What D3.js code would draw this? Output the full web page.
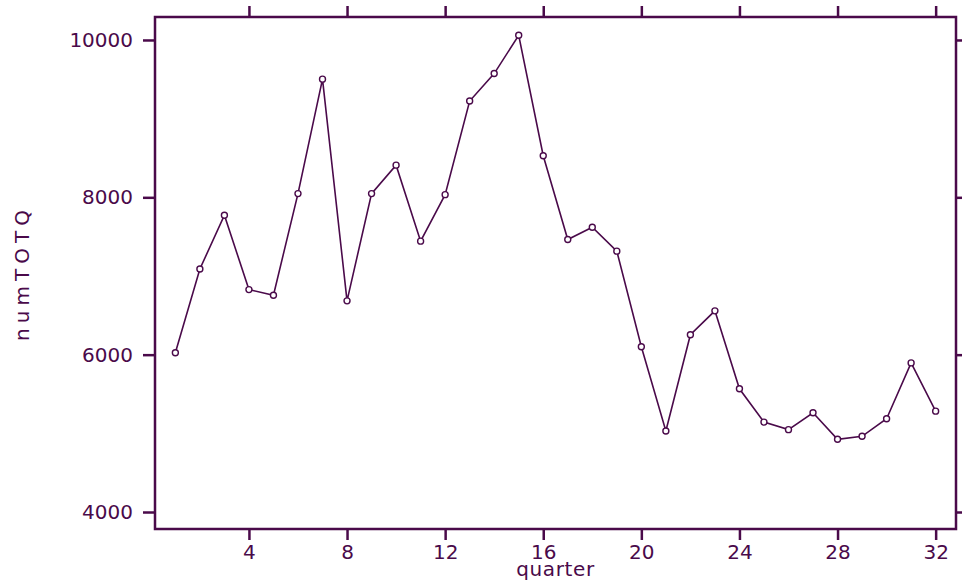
<!DOCTYPE html>
<html>
<head>
<meta charset="utf-8">
<script src="https://cdn.jsdelivr.net/npm/d3@7"></script>
<style>
  body { margin: 0; background: #fff; }
  svg text { font-family: "DejaVu Sans", sans-serif; fill: #4a0a4a; }
</style>
</head>
<body>
<div id="chart"></div>
<script>
var quarters = d3.range(1, 33);
var numTOTQ = [6025, 7089, 7772, 6827, 6756, 8047, 9502, 6684, 8047, 8409,
               7443, 8034, 9224, 9573, 10060, 8528, 7464, 7620, 7316, 6101,
               5029, 6253, 6557, 5566, 5143, 5047, 5262, 4924, 4962, 5186,
               5895, 5282];
var xTicks = [4, 8, 12, 16, 20, 24, 28, 32];
var yTicks = [4000, 6000, 8000, 10000];

var color = "#4a0a4a";
var svgWidth = 962, svgHeight = 588;
var plotLeft = 155, plotRight = 956, plotTop = 17, plotBottom = 529;

var svg = d3.select("#chart").append("svg")
    .attr("width", svgWidth)
    .attr("height", svgHeight);

var x = d3.scaleLinear().domain([0.17, 32.83]).range([plotLeft, plotRight]);
var y = d3.scaleLinear().domain([3784, 10292]).range([plotBottom, plotTop]);

// axes on all four sides, labels only left and bottom
function styleAxis(g) {
  g.select(".domain").remove();
  g.selectAll(".tick line").attr("stroke", color).attr("stroke-width", 2.5);
  g.selectAll(".tick text").attr("font-size", "20px").attr("fill", color);
}

svg.append("g")
    .attr("transform", `translate(${plotLeft},0)`)
    .call(d3.axisLeft(y).tickValues(yTicks).tickSize(12).tickPadding(10).tickFormat(d3.format("d")))
    .call(styleAxis);

svg.append("g")
    .attr("transform", `translate(${plotRight},0)`)
    .call(d3.axisRight(y).tickValues(yTicks).tickSize(10).tickFormat(""))
    .call(styleAxis);

svg.append("g")
    .attr("transform", `translate(0,${plotBottom})`)
    .call(d3.axisBottom(x).tickValues(xTicks).tickSize(11).tickPadding(5).tickFormat(d3.format("d")))
    .call(styleAxis);

svg.append("g")
    .attr("transform", `translate(0,${plotTop})`)
    .call(d3.axisTop(x).tickValues(xTicks).tickSize(11).tickFormat(""))
    .call(styleAxis);

// frame
svg.append("rect")
    .attr("x", plotLeft).attr("y", plotTop)
    .attr("width", plotRight - plotLeft).attr("height", plotBottom - plotTop)
    .attr("fill", "none")
    .attr("stroke", color)
    .attr("stroke-width", 2.5);

// series line
var data = quarters.map((q, i) => ({q: q, v: numTOTQ[i]}));

svg.append("path")
    .datum(data)
    .attr("fill", "none")
    .attr("stroke", color)
    .attr("stroke-width", 1.6)
    .attr("d", d3.line().x(d => x(d.q)).y(d => y(d.v)));

svg.append("g")
    .selectAll("circle")
    .data(data)
    .enter()
    .append("circle")
    .attr("cx", d => x(d.q))
    .attr("cy", d => y(d.v))
    .attr("r", 3)
    .attr("fill", "#fff")
    .attr("stroke", color)
    .attr("stroke-width", 1.4);

// axis titles
svg.append("text")
    .attr("x", (plotLeft + plotRight) / 2)
    .attr("y", 576)
    .attr("text-anchor", "middle")
    .attr("font-size", "20px")
    .attr("letter-spacing", "0.6px")
    .text("quarter");

svg.append("text")
    .attr("transform", `translate(29,${(plotTop + plotBottom) / 2}) rotate(-90)`)
    .attr("text-anchor", "middle")
    .attr("font-size", "20px")
    .attr("letter-spacing", "5px")
    .text("numTOTQ");
</script>
</body>
</html>
